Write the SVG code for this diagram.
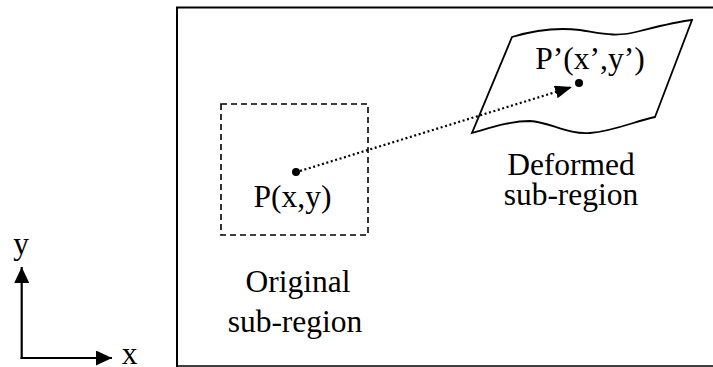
<svg xmlns="http://www.w3.org/2000/svg" width="713" height="367" viewBox="0 0 713 367">
<defs>
<style>
text{font-family:"Liberation Serif","Times New Roman",serif;font-size:31.5px;fill:#000;text-anchor:middle}
.ln{fill:none;stroke:#000}
</style>
<marker id="ah" viewBox="0 0 16 15" refX="16" refY="7.5" markerWidth="16" markerHeight="15" markerUnits="userSpaceOnUse" orient="auto">
<path d="M0,0 L16,7.5 L0,15 Z" fill="#000"/>
</marker>
<marker id="ah2" viewBox="0 0 17 13" refX="17" refY="6.5" markerWidth="17" markerHeight="13" markerUnits="userSpaceOnUse" orient="auto">
<path d="M0,0 L17,6.5 L0,13 Z" fill="#000"/>
</marker>
</defs>
<rect width="713" height="367" fill="#fff"/>
<g id="frame">
<path class="ln" d="M177,367 L177,7.5 L713,7.5" stroke-width="2"/>
<path class="ln" d="M177,366 L713,366" stroke-width="1.3" stroke="#333"/>
</g>
<g id="axes">
<path class="ln" d="M21.7,359 L21.7,267" stroke-width="2.2" marker-end="url(#ah)"/>
<path class="ln" d="M20.6,358 L112,358" stroke-width="2.2" marker-end="url(#ah)"/>
<text x="21" y="254">y</text>
<text x="129.5" y="363.5">x</text>
</g>
<g id="original">
<rect class="ln" x="221" y="104" width="147" height="131" stroke-width="1.6" stroke-dasharray="6 4"/>
<circle cx="296" cy="172" r="4" fill="#000"/>
<text x="292.5" y="207">P(x,y)</text>
<text x="298" y="292">Original</text>
<text x="295" y="332">sub-region</text>
</g>
<g id="deformed">
<path class="ln" stroke-width="1.8" d="M512,37 C535,30 555,27 580,30 C600,33 615,38 640,31 C660,26 675,22 692,20 L655,117 C635,121 615,131 590,133 C568,135 550,122 530,121 C510,121 490,128 472,133 Z"/>
<circle cx="579" cy="83" r="4" fill="#000"/>
<text x="590" y="69">P’(x’,y’)</text>
<text x="571" y="175">Deformed</text>
<text x="571" y="205">sub-region</text>
</g>
<g id="connectors">
<path class="ln" d="M300,171 L572,87" stroke-width="2.2" stroke-dasharray="2 2.6" marker-end="url(#ah2)"/>
</g>
</svg>
